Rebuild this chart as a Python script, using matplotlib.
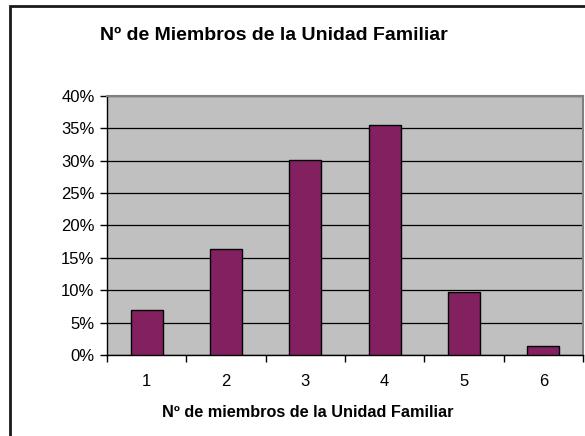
import matplotlib
matplotlib.use("Agg")
import matplotlib.pyplot as plt
from matplotlib.patches import Rectangle
from matplotlib.ticker import FuncFormatter, MultipleLocator

categories = ["1", "2", "3", "4", "5", "6"]
values = [7.0, 16.4, 30.1, 35.5, 9.7, 1.4]
title = "Nº de Miembros de la Unidad Familiar"
xlabel = "Nº de miembros de la Unidad Familiar"

plt.rcParams['font.family'] = ['Liberation Sans', 'DejaVu Sans']

W, H = 585, 436
fig = plt.figure(figsize=(W / 100, H / 100), dpi=100)
fig.patch.set_facecolor('white')

# chart border
fig.patches.append(Rectangle((9.5 / W, -0.1), 1.2, 1 - 6.5 / H + 0.1, transform=fig.transFigure,
                             fill=False, edgecolor='#1a1a1a', linewidth=2.0, zorder=0))

ax = fig.add_axes([107 / W, 1 - 355 / H, (583 - 107) / W, (355 - 96) / H])
ax.set_facecolor('#C0C0C0')

x = list(range(len(categories)))
ax.bar(x, values, width=0.4, color='#822060', edgecolor='black', linewidth=1.0, zorder=3)

ax.set_xlim(-0.5, len(categories) - 0.5)
ax.set_ylim(0, 40)
ax.yaxis.set_major_locator(MultipleLocator(5))
ax.yaxis.set_major_formatter(FuncFormatter(lambda v, p: f"{int(round(v))}%"))
ax.grid(axis='y', color='black', linewidth=0.9, zorder=1)
ax.set_axisbelow(True)

ax.set_xticks(x)
ax.set_xticklabels(categories)
ax.set_xticks([i - 0.5 for i in range(len(categories) + 1)], minor=True)
ax.tick_params(axis='x', which='major', length=0, pad=14, labelsize=12)
ax.tick_params(axis='x', which='minor', length=5, width=1, direction='out', color='black')
ax.tick_params(axis='y', length=5, width=1, direction='out', labelsize=12, pad=4, color='black')

for s in ['left', 'bottom']:
    ax.spines[s].set_color('black')
    ax.spines[s].set_linewidth(1.0)
for s in ['top', 'right']:
    ax.spines[s].set_color('#808080')
    ax.spines[s].set_linewidth(1.5)

fig.text(273.5 / W, 1 - 35 / H, title, ha='center', va='center', fontsize=14, fontweight='bold')
fig.text(307.5 / W, 1 - 412 / H, xlabel, ha='center', va='center', fontsize=11.7, fontweight='bold')

fig.savefig('out.png', dpi=100)
